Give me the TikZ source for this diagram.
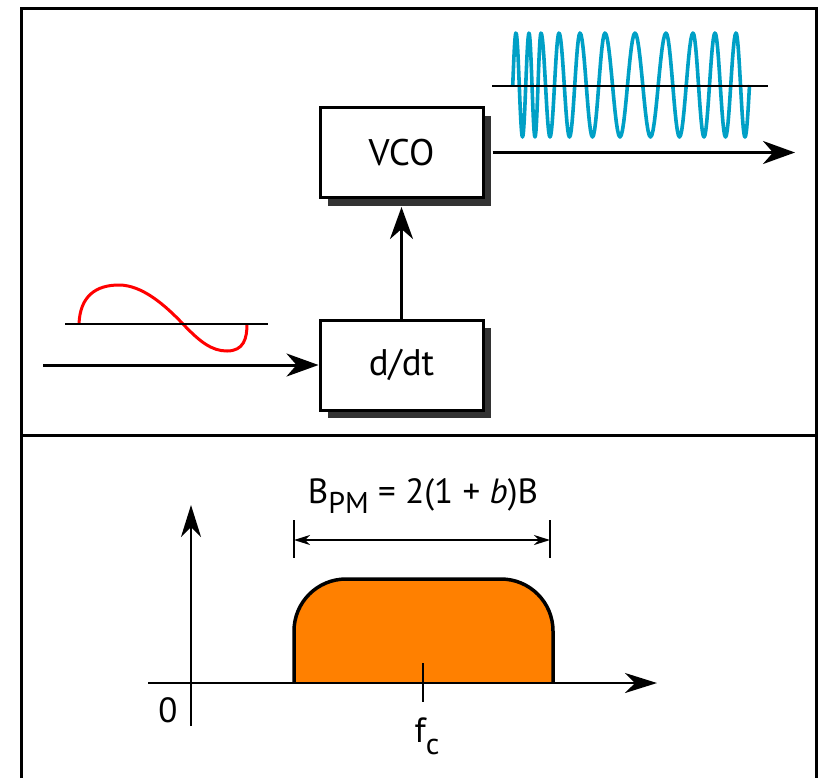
\documentclass[tikz,border=0pt]{standalone}
\usepackage{fontspec}
\setmainfont{PT Sans}
\usetikzlibrary{arrows.meta,shadows}

\begin{document}
\begin{tikzpicture}[x=0.5pt,y=-0.5pt,
  blockbox/.style={draw, line width=1.5pt, fill=white, minimum width=81.5pt, minimum height=45pt,
    font=\fontsize{18.5}{20}\selectfont,
    drop shadow={shadow xshift=4pt, shadow yshift=-4pt, fill=black!80, opacity=1}},
  bigarrow/.style={line width=1.5pt, -{Stealth[length=16pt,width=11.5pt,inset=5pt]}},
  dimarrow/.style={line width=0.8pt, {Stealth[length=8pt,width=5pt,inset=2.5pt]}-{Stealth[length=8pt,width=5pt,inset=2.5pt]}},
  textlbl/.style={font=\fontsize{17.5}{20}\selectfont, inner sep=0pt},
  fmwave/.style={line width=1.8pt, color=fmblue, line join=round},
  pmwave/.style={line width=1.5pt, color=red},
  baseline/.style={line width=1.3pt}]
  \definecolor{fmblue}{RGB}{0,160,198}
  \definecolor{spec}{RGB}{255,128,0}
  \useasboundingbox (0,0) rectangle (823,778);

  \draw[line width=1.5pt] (21,778) -- (21,8) -- (816,8) -- (816,778);
  \draw[line width=1.5pt] (21,435) -- (816,435);

  \node[blockbox] (vco) at (401.5,152.5) {VCO};
  \node[blockbox] (ddt) at (401.5,365) {d/dt};
  \coordinate (in) at (43,365);
  \coordinate (out) at (795,152.5);
  \draw[bigarrow] (in) -- (ddt.west);
  \draw[bigarrow] (ddt.north) -- ([yshift=-4pt]vco.south);
  \draw[bigarrow] ([xshift=4pt]vco.east) -- (out);

  \draw[pmwave] (79,324) .. controls (80,296) and (96,285) .. (119,285)
    .. controls (142,285) and (165,305) .. (183,324)
    .. controls (200,342) and (212,351) .. (227,351)
    .. controls (244,351) and (247,338) .. (247,324);
  \draw[baseline] (65,324) -- (268,324);

  \draw[fmwave] (512.75,85) \foreach \a/\b/\s/\e in {503/516/0.75/1, 516/529/0/1, 529/541/0/1,
      541/559/0/1, 559/580/0/1, 580/605/0/1, 605/635/0/1, 635/666/0/1, 666/693/0/1,
      693/715/0/1, 715/736/0/1, 736/754/0/0.75}
    { -- plot[domain=\s:\e, samples=25] ({\a+\x*(\b-\a)}, {85-52*cos(360*\x)}) };
  \draw[baseline] (492,86) -- (768,86);

  \filldraw[fill=spec, line width=1.75pt, rounded corners=26pt]
    (294,683) -- (294,579) -- (553,579) -- (553,683);
  \draw[line width=1.2pt, -{Stealth[length=16pt,width=10pt,inset=5pt]}] (148,683) -- (657,683);
  \draw[line width=1.2pt, -{Stealth[length=16pt,width=10pt,inset=5pt]}] (191,726) -- (191,505);
  \draw[line width=1.2pt] (423,663) -- (423,702);
  \node[textlbl, anchor=base] (zero) at (168,722) {0};
  \node[textlbl, anchor=base] (fc) at (427,742) {f\raisebox{-6pt}{\fontsize{15}{15}\selectfont c}};

  \draw[line width=1pt] (294,520) -- (294,558);
  \draw[line width=1pt] (550,520) -- (550,558);
  \draw[dimarrow] (294,540) -- (550,540);
  \node[textlbl, anchor=base] (bpm) at (423,503)
    {B\raisebox{-5pt}{\fontsize{15}{15}\selectfont PM} = 2(1 + \textit{b})B};
\end{tikzpicture}
\end{document}
